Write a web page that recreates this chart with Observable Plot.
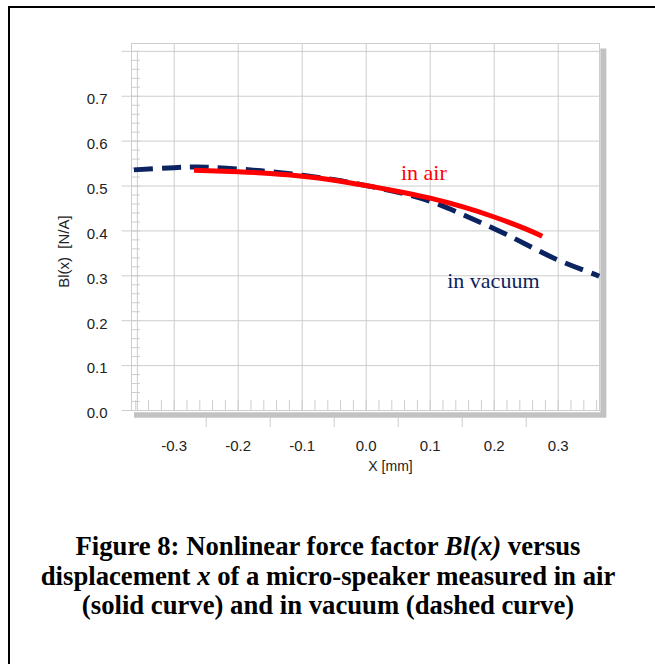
<!DOCTYPE html>
<html>
<head>
<meta charset="utf-8">
<script src="https://cdn.jsdelivr.net/npm/d3@7"></script>
<script src="https://cdn.jsdelivr.net/npm/@observablehq/plot@0.6"></script>
<style>
  html, body { margin: 0; padding: 0; background: #fff; }
  body { position: relative; width: 655px; height: 664px; overflow: hidden; }
  #chart svg { position: absolute; left: 0; top: 0; }
  .rule-top { position: absolute; left: 8px; top: 6px; width: 647px; height: 2px; background: #000; }
  .rule-left { position: absolute; left: 8px; top: 6px; width: 2px; height: 658px; background: #000; }
  #caption {
    position: absolute; left: 0; top: 532px; width: 656px;
    text-align: center; color: #000;
    font: bold 26.7px/29.5px "Liberation Serif", "Times New Roman", serif;
  }
</style>
</head>
<body>
<div class="rule-top"></div>
<div class="rule-left"></div>
<div id="chart"></div>
<div id="caption">Figure 8: Nonlinear force factor <i>Bl(x)</i> versus<br>displacement <i>x</i> of a micro-speaker measured in air<br>(solid curve) and in vacuum (dashed curve)</div>
<script>
// Displacement x [mm] and force factor Bl(x) [N/A]
const airX  = [-0.269, -0.2, -0.15, -0.1, -0.05, 0, 0.05, 0.1, 0.15, 0.2, 0.25, 0.275];
const airBl = [0.535, 0.532, 0.528, 0.522, 0.513, 0.501, 0.488, 0.473, 0.454, 0.431, 0.404, 0.388];

const vacX  = [-0.363, -0.3, -0.25, -0.2, -0.15, -0.1, -0.05, 0, 0.05, 0.1, 0.15, 0.2, 0.25, 0.3, 0.35, 0.364];
const vacBl = [0.536, 0.541, 0.542, 0.538, 0.532, 0.524, 0.514, 0.501, 0.486, 0.466, 0.437, 0.405, 0.370, 0.335, 0.307, 0.299];

// Axis ticks
const xTicks = [-0.3, -0.2, -0.1, 0.0, 0.1, 0.2, 0.3];
const yTicks = [0.0, 0.1, 0.2, 0.3, 0.4, 0.5, 0.6, 0.7];
const yGrid  = [0.0, 0.1, 0.2, 0.3, 0.4, 0.5, 0.6, 0.7, 0.8];
const xShiftedTicks = [-0.25, -0.15, -0.05, 0.05, 0.15, 0.25];
const xMinor = d3.range(-18, 19).map(i => i * 0.02);
const yMinor = d3.range(0, 41).map(i => i * 0.02);

const air = airX.map((x, i) => ({x, bl: airBl[i]}));
const vac = vacX.map((x, i) => ({x, bl: vacBl[i]}));

const xDom = [-0.3667, 0.3645];
const yDom = [0, 0.8175];
const grid = "#cdcdcd";
const shade = "#c2c2c2";
const navy = "#0b2461";
const sans = "'Liberation Sans', Arial, sans-serif";
const serif = "'Liberation Serif', 'Times New Roman', serif";

const chart = Plot.plot({
  width: 655,
  height: 500,
  marginLeft: 131,
  marginRight: 56,
  marginTop: 43,
  marginBottom: 90,
  x: {domain: xDom, axis: null},
  y: {domain: yDom, axis: null},
  style: {fontFamily: sans, background: "transparent", overflow: "visible"},
  marks: [
    // grid
    Plot.ruleY(yGrid, {y: d => d, x1: -0.3813, x2: xDom[1], stroke: grid, strokeWidth: 1}),
    Plot.ruleX(xTicks, {x: d => d, y1: 0, y2: yDom[1], stroke: grid, strokeWidth: 1}),
    Plot.frame({stroke: grid, strokeWidth: 1}),
    Plot.ruleX([-0.3575], {x: d => d, y1: 0, y2: 0.8, stroke: grid, strokeWidth: 1}),
    // minor ticks
    Plot.ruleX(xMinor, {x: d => d, y1: 0, y2: 0.0223, stroke: grid, strokeWidth: 1}),
    Plot.ruleY(yMinor, {y: d => d, x1: xDom[0], x2: -0.3527, stroke: grid, strokeWidth: 1}),
    // shaded floor and side wall
    Plot.ruleY([-0.01], {y: d => d, x1: -0.362, x2: 0.3755, stroke: shade, strokeWidth: 5.5}),
    Plot.ruleX([0.3705], {x: d => d, y1: 0.805, y2: -0.0156, stroke: shade, strokeWidth: 6}),
    Plot.ruleX(xShiftedTicks, {x: d => d, y1: -0.0156, y2: -0.0379, stroke: grid, strokeWidth: 1}),
    // curves
    Plot.line(vac, {x: "x", y: "bl", stroke: navy, strokeWidth: 5, strokeDasharray: "19,9", curve: "natural", strokeLinecap: "butt"}),
    Plot.line(air, {x: "x", y: "bl", stroke: "#ff0000", strokeWidth: 5, curve: "natural", strokeLinecap: "butt"}),
    // tick labels
    Plot.text(yTicks, {y: d => d, text: d => d.toFixed(1), frameAnchor: "left", dx: -24, dy: 3, textAnchor: "end", fontSize: 15, fill: "#222"}),
    Plot.text(xTicks, {x: d => d, text: d => d.toFixed(1), frameAnchor: "bottom", dy: 40, fontSize: 15, fill: "#222"}),
    // axis titles
    Plot.text(["X [mm]"], {x: [0.038], text: d => d, frameAnchor: "bottom", dy: 60, fontSize: 14, fill: "#222"}),
    Plot.text(["Bl(x)\u00a0\u00a0[N/A]"], {x: [-0.4714], y: [0.354], text: d => d, rotate: -90, fontSize: 15, fill: "#222"}),
    // curve labels
    Plot.text(["in air"], {x: [0.0542], y: [0.5287], text: d => d, textAnchor: "start", fontFamily: serif, fontSize: 22, fill: "#ff0000"}),
    Plot.text(["in vacuum"], {x: [0.1266], y: [0.2895], text: d => d, textAnchor: "start", fontFamily: serif, fontSize: 22, fill: navy})
  ]
});

document.getElementById("chart").appendChild(chart);
</script>
</body>
</html>
